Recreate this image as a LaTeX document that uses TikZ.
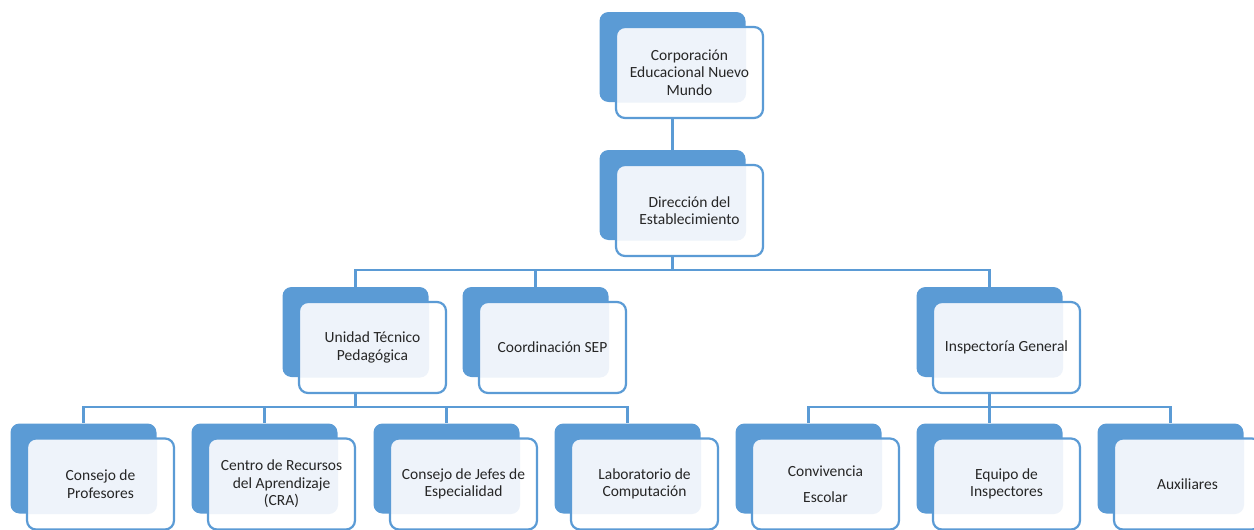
\documentclass[tikz,border=0pt]{standalone}
\usepackage{fontspec}
\setmainfont{Carlito}
\definecolor{orgblue}{HTML}{5B9BD5}
\definecolor{orglight}{HTML}{EEF3FA}
\tikzset{
  backbox/.style={fill=orgblue, rounded corners=9pt, minimum width=146pt, minimum height=90pt, inner sep=0pt},
  frontbox/.style={draw=orgblue, line width=2.2pt, fill=white, rounded corners=9pt,
    minimum width=147pt, minimum height=91pt, inner sep=2pt, align=center,
    font=\fontsize{15.5}{17.5}\selectfont, text=black!85,
    path picture={\fill[orglight, rounded corners=9pt]
      ([shift={(-17pt,15.5pt)}]path picture bounding box.south west) rectangle
      ([shift={(-17pt,15.5pt)}]path picture bounding box.north east);}},
  link/.style={draw=orgblue, line width=2.5pt},
}
\begin{document}
\begin{tikzpicture}[x=1pt, y=-1pt]
\useasboundingbox (0,0) rectangle (1254,530);
\node[backbox] (corpB) at (672.5,57){};
\node[backbox] (dirB) at (672.5,195){};
\node[backbox] (utpB) at (355.5,332){};
\node[backbox] (sepB) at (535.5,332){};
\node[backbox] (inspB) at (989.5,332){};
\node[backbox] (cpB) at (83.5,468.5){};
\node[backbox] (craB) at (264.5,468.5){};
\node[backbox] (cjeB) at (446.5,468.5){};
\node[backbox] (labB) at (627.5,468.5){};
\node[backbox] (cevB) at (808.5,468.5){};
\node[backbox] (eqiB) at (989.5,468.5){};
\node[backbox] (auxB) at (1170.5,468.5){};
% buses
\coordinate (busA) at (0,270);
\coordinate (busB) at (0,407);
\draw[link] (corpB) -- (dirB);
\draw[link] (dirB.south) -- (dirB.south |- busA) -| (utpB.north);
\draw[link] (dirB.south |- busA) -| (sepB.north);
\draw[link] (dirB.south |- busA) -| (inspB.north);
\draw[link] (utpB.south) -- (utpB.south |- busB) -| (cpB.north);
\draw[link] (utpB.south |- busB) -| (craB.north);
\draw[link] (utpB.south |- busB) -| (cjeB.north);
\draw[link] (utpB.south |- busB) -| (labB.north);
\draw[link] (inspB.south) -- (inspB.south |- busB) -| (cevB.north);
\draw[link] (inspB.south |- busB) -| (eqiB.north);
\draw[link] (inspB.south |- busB) -| (auxB.north);
% front boxes
\node[frontbox] (corp) at (689.5,72.5){Corporación\\Educacional Nuevo\\Mundo};
\node[frontbox] (dir) at (689.5,210.5){Dirección del\\Establecimiento};
\node[frontbox] (utp) at (372.5,347.5){Unidad Técnico\\Pedagógica};
\node[frontbox] (sep) at (552.5,347.5){Coordinación SEP};
\node[frontbox] (insp) at (1006.5,347.5){Inspectoría General};
\node[frontbox] (cp) at (100.5,484){Consejo de\\Profesores};
\node[frontbox] (cra) at (281.5,484){Centro de Recursos\\del Aprendizaje\\(CRA)};
\node[frontbox] (cje) at (463.5,484){Consejo de Jefes de\\Especialidad};
\node[frontbox] (lab) at (644.5,484){Laboratorio de\\Computación};
\node[frontbox] (cev) at (825.5,484){Convivencia\\[8pt]Escolar};
\node[frontbox] (eqi) at (1006.5,484){Equipo de\\Inspectores};
\node[frontbox] (aux) at (1187.5,484){Auxiliares};
\end{tikzpicture}
\end{document}
